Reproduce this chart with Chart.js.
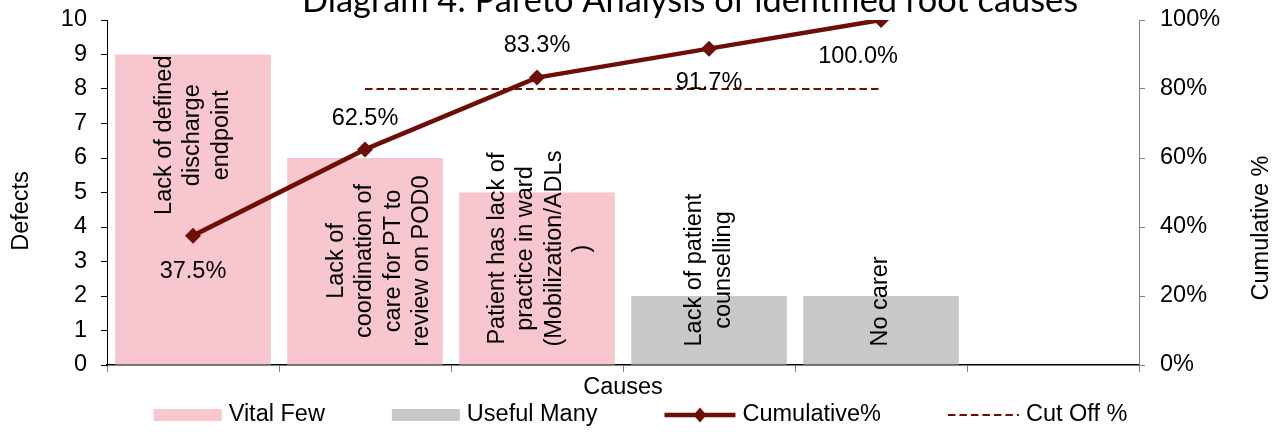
<!DOCTYPE html>
<html>
<head>
<meta charset="utf-8">
<script src="https://cdn.jsdelivr.net/npm/chart.js@4.4.0/dist/chart.umd.min.js"></script>
<style>
  html, body { margin: 0; padding: 0; background: #fff; }
  #wrap { width: 1273px; height: 432px; }
</style>
</head>
<body>
<div id="wrap"><canvas id="paretoChart"></canvas></div>
<script>
// causes, one array of lines per bar (last slot is an empty category)
const causes = [
  ['Lack of defined', 'discharge', 'endpoint'],
  ['Lack of', 'coordination of', 'care for PT to', 'review on POD0'],
  ['Patient has lack of', 'practice in ward', '(Mobilization/ADLs', ')'],
  ['Lack of patient', 'counselling'],
  ['No carer'],
  ''
];
const vitalFew = [9, 6, 5, null, null, null];
const usefulMany = [null, null, null, 2, 2, null];
const cumulative = [37.5, 62.5, 83.3, 91.7, 100, null];
const cutOff = [null, 80, 80, 80, 80, null];
const pctTickLabels = ['0%', '20%', '40%', '60%', '80%', '100%'];

const FONT = '"Liberation Sans", Arial, sans-serif';
const DARK_RED = '#6D0E07';
const PINK = '#F7C6CF';
const GREY = '#C8C8C8';

Chart.defaults.font.family = FONT;
Chart.defaults.font.size = 23.5;
Chart.defaults.color = '#000';

// where the text goes inside each bar
const barLabelAnchor = ['top', 'base', 'base', 'base', 'base'];
const barLabelShift = [0, 14, 3, 0, 0];
// where the cumulative % labels sit relative to their point
const pctLabelOffset = [[0, 36], [0, -31], [0, -32], [0, 34], [-23, 37]];

const barLabels = {
  id: 'barLabels',
  afterDatasetDraw(chart, args) {
    const meta = args.meta;
    if (meta.type !== 'bar') return;
    const ctx = chart.ctx;
    const lineGap = 28.5;
    ctx.save();
    ctx.font = '23.5px ' + FONT;
    ctx.fillStyle = '#000';
    ctx.textAlign = 'center';
    ctx.textBaseline = 'middle';
    meta.data.forEach((bar, i) => {
      const v = chart.data.datasets[args.index].data[i];
      if (v == null) return;
      let lines = chart.data.labels[i];
      if (!Array.isArray(lines)) lines = [lines];
      const len = Math.max(...lines.map(l => ctx.measureText(l).width));
      let cy;
      if (barLabelAnchor[i] === 'top') cy = bar.y + 1 + len / 2;
      else cy = bar.base - 18 - len / 2;
      ctx.save();
      ctx.translate(bar.x + barLabelShift[i], cy);
      ctx.rotate(-Math.PI / 2);
      lines.forEach((l, k) => ctx.fillText(l, 0, (k - (lines.length - 1) / 2) * lineGap));
      ctx.restore();
    });
    ctx.restore();
  }
};

const pctLabels = {
  id: 'pctLabels',
  afterDatasetsDraw(chart) {
    const ctx = chart.ctx;
    const meta = chart.getDatasetMeta(2);
    ctx.save();
    ctx.font = '23.5px ' + FONT;
    ctx.fillStyle = '#000';
    ctx.textAlign = 'center';
    ctx.textBaseline = 'middle';
    meta.data.forEach((pt, i) => {
      const v = chart.data.datasets[2].data[i];
      if (v == null) return;
      const o = pctLabelOffset[i];
      ctx.fillText(v.toFixed(1) + '%', pt.x + o[0], pt.y + o[1]);
    });
    ctx.restore();
  }
};

const frame = {
  id: 'frame',
  afterDraw(chart) {
    const ctx = chart.ctx;
    ctx.save();
    ctx.fillStyle = '#000';

    // title, partly above the top edge like the source
    const title = 'Diagram 4: Pareto Analysis of identified root causes';
    ctx.font = '100px Lato';
    const size = 100 * 776 / ctx.measureText(title).width;
    ctx.font = size.toFixed(1) + 'px Lato';
    ctx.textAlign = 'center';
    ctx.textBaseline = 'alphabetic';
    ctx.fillText(title, 690, 12);

    // both axis titles read bottom-to-top
    ctx.font = '23.5px ' + FONT;
    ctx.textBaseline = 'middle';
    [['Defects', 22, 211], ['Cumulative %', 1262, 228]].forEach(([t, x, y]) => {
      ctx.save();
      ctx.translate(x, y);
      ctx.rotate(-Math.PI / 2);
      ctx.fillText(t, 0, 0);
      ctx.restore();
    });

    // legend
    const gap = 7, spacing = 67, y = 415;
    const items = chart.data.datasets.map(ds => ({ds: ds, w: ds.type === 'line' ? 71 : 68}));
    let total = spacing * (items.length - 1);
    items.forEach(it => { it.tw = ctx.measureText(it.ds.label).width; total += it.w + gap + it.tw; });
    let x = chart.width / 2 + 4 - total / 2;
    items.forEach(it => {
      const ds = it.ds;
      if (ds.type === 'line') {
        ctx.strokeStyle = ds.borderColor;
        ctx.lineWidth = ds.borderWidth;
        ctx.setLineDash(ds.borderDash || []);
        ctx.beginPath();
        ctx.moveTo(x, y);
        ctx.lineTo(x + it.w, y);
        ctx.stroke();
        ctx.setLineDash([]);
        if (ds.pointRadius) {
          const cx = x + it.w / 2;
          ctx.fillStyle = ds.borderColor;
          ctx.beginPath();
          ctx.moveTo(cx, y - 7.5);
          ctx.lineTo(cx + 6.5, y);
          ctx.lineTo(cx, y + 7.5);
          ctx.lineTo(cx - 6.5, y);
          ctx.closePath();
          ctx.fill();
        }
      } else {
        ctx.fillStyle = ds.backgroundColor;
        ctx.fillRect(x, y - 6, it.w, 12);
      }
      ctx.fillStyle = '#000';
      ctx.textAlign = 'left';
      ctx.fillText(ds.label, x + it.w + gap, y);
      x += it.w + gap + it.tw + spacing;
    });
    ctx.restore();
  }
};

// the value axes should not push the plot area in for their end labels
function fixVertical(width) {
  return function (s) {
    s.width = width;
    s.paddingTop = 0;
    s.paddingBottom = 0;
  };
}

new Chart(document.getElementById('paretoChart'), {
  type: 'bar',
  data: {
    labels: causes,
    datasets: [
      {
        type: 'bar', label: 'Vital Few', data: vitalFew, yAxisID: 'y',
        backgroundColor: PINK, grouped: false, order: 2,
        barPercentage: 0.905, categoryPercentage: 1
      },
      {
        type: 'bar', label: 'Useful Many', data: usefulMany, yAxisID: 'y',
        backgroundColor: GREY, grouped: false, order: 2,
        barPercentage: 0.905, categoryPercentage: 1
      },
      {
        type: 'line', label: 'Cumulative%', data: cumulative, yAxisID: 'y1',
        borderColor: DARK_RED, backgroundColor: DARK_RED, borderWidth: 4.5,
        pointStyle: 'rectRot', pointRadius: 8, pointBorderWidth: 0, order: 0
      },
      {
        type: 'line', label: 'Cut Off %', data: cutOff, yAxisID: 'y1',
        borderColor: DARK_RED, borderWidth: 2, borderDash: [7.5, 4],
        pointRadius: 0, order: 1
      }
    ]
  },
  options: {
    responsive: true,
    maintainAspectRatio: false,
    animation: false,
    layout: { padding: { top: 20, left: 0, right: 0, bottom: 0 } },
    plugins: {
      legend: { display: false },
      title: { display: false },
      tooltip: { enabled: false }
    },
    scales: {
      x: {
        grid: { offset: true, drawOnChartArea: false, tickLength: 7, color: '#808080' },
        border: { color: '#000', width: 1.5 },
        ticks: { display: false },
        title: { display: true, text: 'Causes', padding: { top: 0, bottom: 30 } },
        afterFit(s) { s.height = 67; }
      },
      y: {
        position: 'left', min: 0, max: 10,
        ticks: { stepSize: 1, padding: 14 },
        grid: { drawOnChartArea: false, tickLength: 6, color: '#000' },
        border: { color: '#000' },
        afterFit: fixVertical(107)
      },
      y1: {
        position: 'right', min: 0, max: 100,
        ticks: { stepSize: 20, padding: 15, callback: (v, i) => pctTickLabels[i] },
        grid: { drawOnChartArea: false, tickLength: 6, color: '#808080' },
        border: { color: '#808080' },
        afterFit: fixVertical(134)
      }
    }
  },
  plugins: [barLabels, pctLabels, frame]
});
</script>
</body>
</html>
